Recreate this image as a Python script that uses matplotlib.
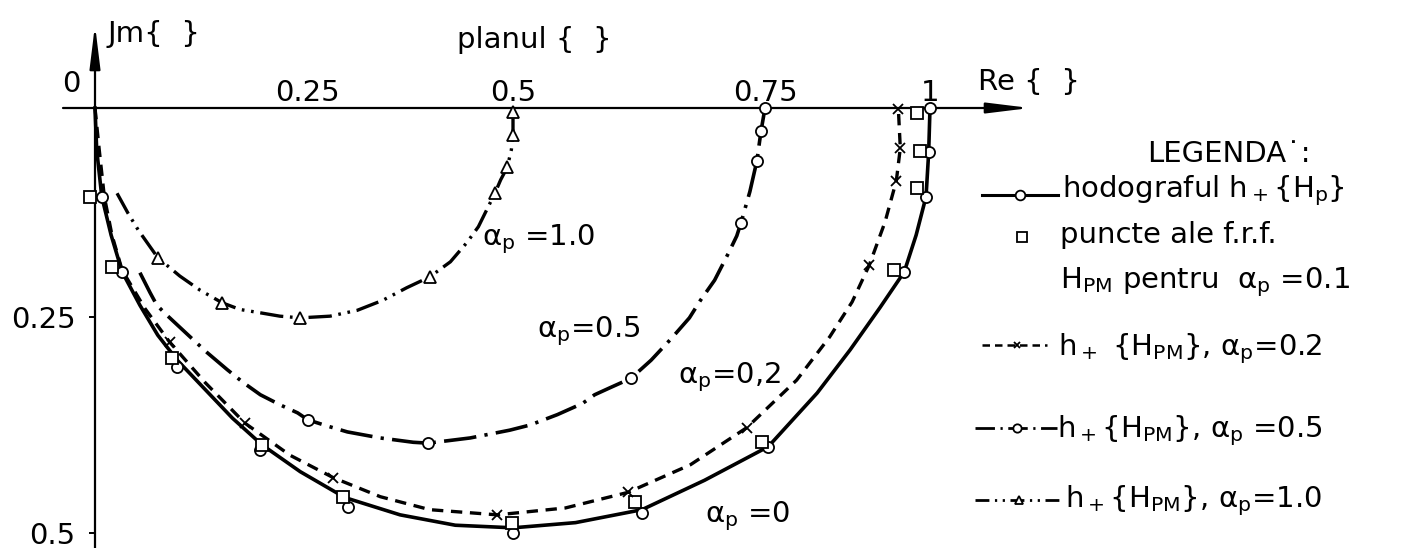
import numpy as np
import matplotlib.pyplot as plt

plt.rcParams['font.family'] = ['DejaVu Sans']
plt.rcParams['mathtext.fontset'] = 'dejavusans'

# ---- hodograph data (Re, -Jm) ----
# alpha_p = 0 : h+{H_p}
re_a0 = [0.0, 0.002, 0.008, 0.019, 0.032, 0.053, 0.074, 0.097, 0.130, 0.162,
         0.197, 0.242, 0.296, 0.363, 0.430, 0.5, 0.562, 0.628, 0.690, 0.755,
         0.829, 0.879, 0.924, 0.961, 0.979, 0.994, 0.998, 1.0]
im_a0 = [0.0, 0.050, 0.106, 0.152, 0.196, 0.236, 0.271, 0.300, 0.334, 0.367,
         0.398, 0.429, 0.459, 0.479, 0.491, 0.494, 0.488, 0.473, 0.439, 0.400,
         0.338, 0.288, 0.239, 0.196, 0.152, 0.106, 0.053, 0.0]
re_a0_pts = [0.008, 0.032, 0.097, 0.195, 0.300, 0.5, 0.628, 0.755, 0.961, 0.994, 0.998, 1.0]
im_a0_pts = [0.106, 0.196, 0.308, 0.404, 0.470, 0.5, 0.477, 0.400, 0.196, 0.106, 0.053, 0.0]

# f.r.f. points of H_PM for alpha_p = 0.1
re_frf = [-0.006, 0.020, 0.091, 0.197, 0.294, 0.499, 0.621, 0.747, 0.945, 0.980, 0.985, 0.980]
im_frf = [0.106, 0.190, 0.297, 0.398, 0.458, 0.488, 0.464, 0.395, 0.194, 0.096, 0.051, 0.006]

# alpha_p = 0.2
re_a02 = [0.0, 0.005, 0.011, 0.020, 0.032, 0.059, 0.088, 0.130, 0.177, 0.230,
          0.282, 0.339, 0.399, 0.481, 0.552, 0.614, 0.676, 0.732, 0.798, 0.848,
          0.882, 0.908, 0.932, 0.949, 0.955, 0.952]
im_a02 = [0.0, 0.050, 0.106, 0.152, 0.194, 0.240, 0.279, 0.326, 0.373, 0.410,
          0.436, 0.458, 0.473, 0.479, 0.471, 0.453, 0.421, 0.378, 0.323, 0.273,
          0.232, 0.188, 0.136, 0.087, 0.048, 0.0]
re_a02_pts = [0.088, 0.177, 0.282, 0.481, 0.614, 0.732, 0.908, 0.949, 0.955, 0.952]
im_a02_pts = [0.279, 0.373, 0.436, 0.479, 0.453, 0.378, 0.188, 0.087, 0.048, 0.001]

# alpha_p = 0.5
re_a05 = [0.053, 0.065, 0.073, 0.086, 0.110, 0.132, 0.156, 0.175, 0.195, 0.219,
          0.239, 0.251, 0.274, 0.299, 0.339, 0.379, 0.397, 0.448, 0.496, 0.517,
          0.544, 0.569, 0.581, 0.596, 0.617, 0.637, 0.657, 0.675, 0.686, 0.700,
          0.714, 0.722, 0.726, 0.735, 0.742, 0.746, 0.75]
im_a05 = [0.197, 0.221, 0.236, 0.249, 0.271, 0.291, 0.311, 0.326, 0.340, 0.352,
          0.361, 0.369, 0.376, 0.383, 0.390, 0.395, 0.396, 0.390, 0.381, 0.375,
          0.363, 0.350, 0.340, 0.332, 0.321, 0.300, 0.275, 0.251, 0.230, 0.206,
          0.173, 0.153, 0.138, 0.100, 0.063, 0.028, 0.0]
re_a05_pts = [0.251, 0.397, 0.617, 0.726, 0.742, 0.746, 0.75]
im_a05_pts = [0.369, 0.396, 0.321, 0.138, 0.063, 0.028, 0.0]

# alpha_p = 1.0
re_a1 = [0.026, 0.039, 0.051, 0.074, 0.100, 0.124, 0.150, 0.171, 0.195, 0.218,
         0.242, 0.278, 0.311, 0.342, 0.371, 0.399, 0.424, 0.444, 0.458, 0.468,
         0.478, 0.485, 0.493, 0.498, 0.5, 0.5]
im_a1 = [0.102, 0.126, 0.146, 0.179, 0.201, 0.218, 0.233, 0.241, 0.245, 0.249,
         0.251, 0.249, 0.242, 0.230, 0.215, 0.202, 0.184, 0.161, 0.142, 0.122,
         0.102, 0.086, 0.071, 0.050, 0.032, 0.0]
re_a1_pts = [0.074, 0.150, 0.242, 0.399, 0.478, 0.493, 0.5, 0.5]
im_a1_pts = [0.179, 0.233, 0.251, 0.202, 0.102, 0.071, 0.032, 0.005]

x_ticks = [0.25, 0.5, 0.75, 1.0]
x_tick_labels = ['0.25', '0.5', '0.75', '1']
y_ticks = [0.25, 0.5]
y_tick_labels = ['0.25', '0.5']

# hand-drawn graduation: value -> pixel position on the sheet
W, H = 1401, 548
RE_KNOTS, RE_PIX = [0.0, 0.25, 0.5, 0.75, 1.0], [95, 307, 513, 765, 930]
IM_KNOTS, IM_PIX = [0.0, 0.25, 0.5], [108, 317, 533]


def graduation(knots, pix):
    k = np.asarray(knots, float)
    p = np.asarray(pix, float)
    k = np.r_[k[0] - 10 * (k[1] - k[0]), k, k[-1] + 10 * (k[-1] - k[-2])]
    p = np.r_[p[1] - 11 * (p[1] - p[0]), p, p[-2] + 11 * (p[-1] - p[-2])]
    return (lambda v: np.interp(v, k, p)), (lambda q: np.interp(q, p, k))


fx, ix = graduation(RE_KNOTS, RE_PIX)
fy, iy = graduation(IM_KNOTS, IM_PIX)

fig = plt.figure(figsize=(W / 100, H / 100), dpi=100)
ax = fig.add_axes([0, 0, 1, 1])
ax.set_xscale('function', functions=(fx, ix))
ax.set_yscale('function', functions=(fy, iy))
ax.set_xlim(float(ix(0)), float(ix(W)))
ax.set_ylim(float(iy(H)), float(iy(0)))
ax.patch.set_visible(False)

# axes with arrows
arrow = dict(arrowstyle='-|>,head_length=2.6,head_width=0.32', lw=1.6,
             color='k', shrinkA=0, shrinkB=0, mutation_scale=10)
ax.annotate('', xy=(float(ix(1030)), 0), xytext=(float(ix(63)), 0), arrowprops=arrow)
ax.annotate('', xy=(0, float(iy(25))), xytext=(0, float(iy(H))), arrowprops=arrow)

for s in ax.spines.values():
    s.set_visible(False)
ax.spines['left'].set_position(('data', 0))
ax.spines['top'].set_position(('data', 0))
ax.xaxis.tick_top()
ax.set_xticks(x_ticks, x_tick_labels)
ax.set_yticks(y_ticks, y_tick_labels)
ax.minorticks_off()
ax.tick_params(axis='x', length=0, pad=1, labelsize=21)
ax.tick_params(axis='y', direction='out', length=4, width=1.4, pad=10, labelsize=21)

mk = dict(markerfacecolor='white', markeredgecolor='k', markeredgewidth=1.3, linestyle='none', zorder=5)

ax.plot(re_a0, im_a0, color='k', lw=2.6, solid_joinstyle='round')
ax.plot(re_a0_pts, im_a0_pts, marker='o', markersize=8, **mk)
ax.plot(re_frf, im_frf, marker='s', markersize=8.5, **mk)

ax.plot(re_a02, im_a02, color='k', lw=2.4, linestyle=(0, (3.4, 2.3)))
ax.plot(re_a02_pts, im_a02_pts, marker='x', markersize=7, **mk)

ax.plot(re_a05, im_a05, color='k', lw=2.6, linestyle=(0, (9, 2.3, 0.9, 2.3)))
ax.plot(re_a05_pts, im_a05_pts, marker='o', markersize=8, **mk)

ax.plot(re_a1, im_a1, color='k', lw=2.4, linestyle=(0, (7, 2, 0.8, 2, 0.8, 2)))
ax.plot(re_a1_pts, im_a1_pts, marker='^', markersize=8, **mk)

# text and legend laid out in sheet pixels
lay = fig.add_axes([0, 0, 1, 1])
lay.set_xlim(0, W)
lay.set_ylim(H, 0)
lay.axis('off')
fs = 21


def txt(x, y, s, **kw):
    lay.text(x, y, s, fontsize=fs, va='baseline', **kw)


lay.text(71, 84, '0', fontsize=fs, ha='center', va='center')
txt(107, 42, 'Jm{  }')
txt(457, 48, 'planul {  }')
txt(978, 90, 'Re {  }')

txt(482, 245, r'$\mathregular{\alpha_p}$ =1.0')
txt(537, 337, r'$\mathregular{\alpha_p}$=0.5')
txt(678, 383, r'$\mathregular{\alpha_p}$=0,2')
txt(705, 522, r'$\mathregular{\alpha_p}$ =0')

txt(1147, 162, 'LEGENDA˙:')
lay.plot([982, 1058], [195, 195], color='k', lw=2.2)
lay.plot([1020], [195], marker='o', markersize=7, **mk)
txt(1062, 197, r'hodograful $\mathregular{h_+\{H_p\}}$')

lay.plot([1022], [237], marker='s', markersize=7, **mk)
txt(1060, 243, 'puncte ale f.r.f.')
txt(1060, 288, r'$\mathregular{H_{PM}}$ pentru  $\mathregular{\alpha_p}$ =0.1')

lay.plot([982, 1047], [345, 345], color='k', lw=1.8, linestyle=(0, (3, 2)))
lay.plot([1017], [345], marker='x', markersize=5, **mk)
txt(1058, 355, r'$\mathregular{h_+\ \left\{H_{PM}\right\}}$, $\mathregular{\alpha_p}$=0.2')

lay.plot([975, 1057], [428, 428], color='k', lw=2.0, linestyle=(0, (7, 2, 0.8, 2)))
lay.plot([1017], [428], marker='o', markersize=6, **mk)
txt(1057, 437, r'$\mathregular{h_+\left\{H_{PM}\right\}}$, $\mathregular{\alpha_p}$ =0.5')

lay.plot([975, 1062], [500, 500], color='k', lw=2.0, linestyle=(0, (5, 2, 0.8, 2, 0.8, 2)))
lay.plot([1019], [500], marker='^', markersize=6, **mk)
txt(1065, 507, r'$\mathregular{h_+\left\{H_{PM}\right\}}$, $\mathregular{\alpha_p}$=1.0')

fig.savefig('out.png', dpi=100, facecolor='white')
